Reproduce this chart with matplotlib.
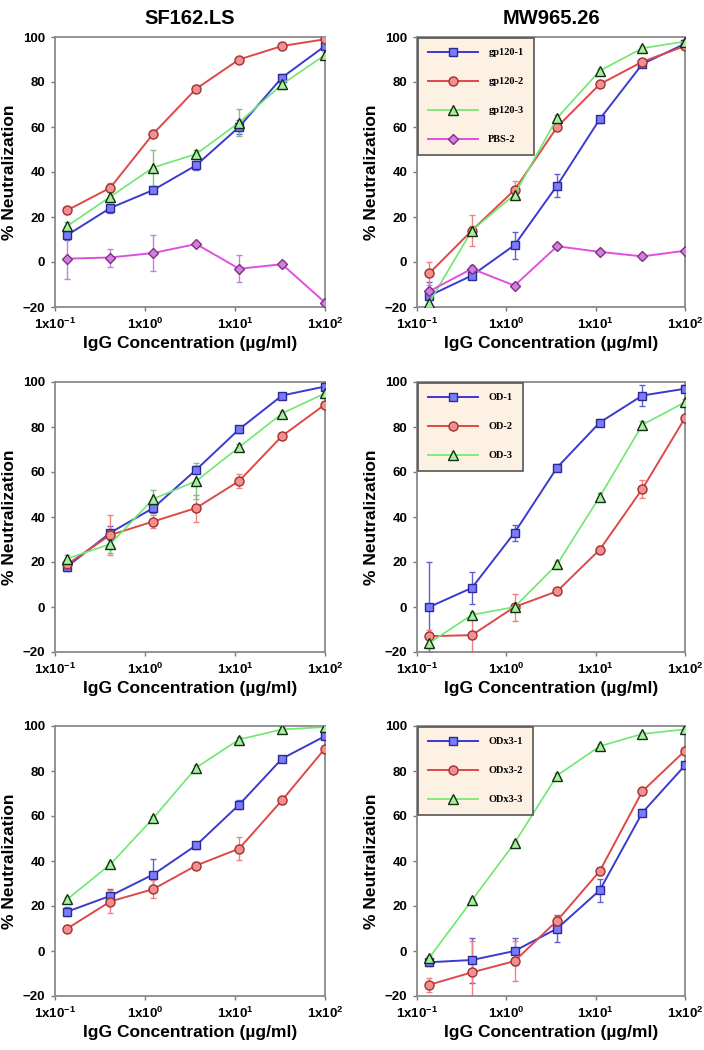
import numpy as np
import matplotlib
matplotlib.use('Agg')
import matplotlib.pyplot as plt
from matplotlib.ticker import FixedLocator, NullLocator

plt.rcParams['font.family'] = ['Liberation Sans', 'DejaVu Sans']
plt.rcParams['font.weight'] = 'bold'
plt.rcParams['mathtext.fontset'] = 'custom'
plt.rcParams['mathtext.rm'] = 'Liberation Sans:bold'
plt.rcParams['mathtext.it'] = 'Liberation Sans:bold'
plt.rcParams['mathtext.bf'] = 'Liberation Sans:bold'
plt.rcParams['mathtext.default'] = 'rm'

# 3-fold dilutions of IgG (ug/ml)
conc = [100 / 729, 100 / 243, 100 / 81, 100 / 27, 100 / 9, 100 / 3, 100]

# SF162.LS, gp120 immunized
sf_gp1 = [12, 24, 32, 43, 60, 82, 96]
sf_gp2 = [23, 33, 57, 77, 90, 96, 99]
sf_gp3 = [16, 29, 42, 48, 62, 79, 92]
sf_pbs = [1.5, 2, 4, 8, -3, -1, -18]
sf_gp1_err = [2, 2, 1.5, 2, 3, 1.5, 1]
sf_gp2_err = [1.5, 2, 1.5, 1.5, 1, 1.5, 1]
sf_gp3_err = [2, 2, 8, 2, 6, 2, 1.5]
sf_pbs_err = [9, 4, 8, 1, 6, 1, 1.5]

# MW965.26, gp120 immunized
mw_gp1 = [-15, -6, 7.5, 34, 63.5, 88, 97]
mw_gp2 = [-5, 14, 32, 60, 79, 89, 96]
mw_gp3 = [-18, 14, 30, 64, 85, 95, 98]
mw_pbs = [-13, -3, -10.5, 7, 4.5, 2.5, 5]
mw_gp1_err = [6, 1.5, 6, 5, 1.5, 1.5, 1]
mw_gp2_err = [5, 7, 4, 1.5, 1, 1, 1]
mw_gp3_err = [2, 2, 2, 1.5, 1, 1, 1]
mw_pbs_err = [1.5, 1.5, 1, 1, 1, 1, 1]

# SF162.LS, OD immunized
sf_od1 = [18, 33, 44, 61, 79, 94, 98]
sf_od2 = [19, 32, 38, 44, 56, 76, 90]
sf_od3 = [21.5, 28, 48, 56, 71, 86, 95]
sf_od1_err = [2, 3, 2, 1.5, 1.5, 1, 1]
sf_od2_err = [2, 9, 3, 6, 3, 1.5, 1]
sf_od3_err = [1.5, 4, 4, 8, 1.5, 1, 1]

# MW965.26, OD immunized
mw_od1 = [0, 8.5, 33, 62, 82, 94, 97]
mw_od2 = [-13, -12.5, 0, 7, 25.5, 52.5, 84]
mw_od3 = [-16, -3.5, 0, 19, 49, 81, 91]
mw_od1_err = [20, 7, 3.5, 1.5, 1.5, 4.5, 1.5]
mw_od2_err = [3, 8, 6, 1.5, 1.5, 4, 1.5]
mw_od3_err = [2, 1.5, 1.5, 1.5, 1.5, 1.5, 1.5]

# SF162.LS, ODx3 immunized
sf_odx1 = [17.5, 24.5, 34, 47, 65, 85.5, 95.5]
sf_odx2 = [10, 22, 27.5, 38, 45.5, 67, 90]
sf_odx3 = [23, 38.5, 59, 81.5, 94, 98.5, 99.5]
sf_odx1_err = [2, 3, 7, 1.5, 2, 1, 1]
sf_odx2_err = [1.5, 5, 4, 1.5, 5, 1.5, 1]
sf_odx3_err = [1, 1, 1, 1, 1, 1, 1]

# MW965.26, ODx3 immunized
mw_odx1 = [-5, -4, 0, 10, 27, 61.5, 82.5]
mw_odx2 = [-15, -9.5, -4.5, 13.5, 35.5, 71, 89]
mw_odx3 = [-3, 22.5, 48, 78, 91, 96.5, 98.5]
mw_odx1_err = [1.5, 10, 6, 6, 5, 1.5, 1.5]
mw_odx2_err = [3, 14, 9, 2, 1.5, 1.5, 1.5]
mw_odx3_err = [1, 1, 1, 1, 1, 1, 1]

gp_labels = ['gp120-1', 'gp120-2', 'gp120-3', 'PBS-2']
od_labels = ['OD-1', 'OD-2', 'OD-3']
odx_labels = ['ODx3-1', 'ODx3-2', 'ODx3-3']

styles = [
    dict(color='#3a3ad0', marker='s', mfc='#7b7bff', mec='#2a2a90', ms=6, lw=1.4),
    dict(color='#e04848', marker='o', mfc='#f29090', mec='#a03030', ms=6.5, lw=1.4),
    dict(color='#6ee86e', marker='^', mfc='#a8f0a0', mec='#103010', ms=7.5, lw=1.2),
    dict(color='#e050e0', marker='D', mfc='#d080e0', mec='#803080', ms=5.5, lw=1.4),
]
err_colors = ['#6060d0', '#f08080', '#80c080', '#c080e0']

panels = [
    ([sf_gp1, sf_gp2, sf_gp3, sf_pbs], [sf_gp1_err, sf_gp2_err, sf_gp3_err, sf_pbs_err], None),
    ([mw_gp1, mw_gp2, mw_gp3, mw_pbs], [mw_gp1_err, mw_gp2_err, mw_gp3_err, mw_pbs_err], gp_labels),
    ([sf_od1, sf_od2, sf_od3], [sf_od1_err, sf_od2_err, sf_od3_err], None),
    ([mw_od1, mw_od2, mw_od3], [mw_od1_err, mw_od2_err, mw_od3_err], od_labels),
    ([sf_odx1, sf_odx2, sf_odx3], [sf_odx1_err, sf_odx2_err, sf_odx3_err], None),
    ([mw_odx1, mw_odx2, mw_odx3], [mw_odx1_err, mw_odx2_err, mw_odx3_err], odx_labels),
]

W, H = 704, 1050
fig = plt.figure(figsize=(7.04, 10.5), dpi=100)

# axes boxes in pixels: left, top, right, bottom
lefts = [(55, 325), (417, 685)]
rows = [(37, 307), (382, 652), (726, 996)]

for i, (series, errs, labels) in enumerate(panels):
    r, c = divmod(i, 2)
    x0, x1 = lefts[c]
    y0, y1 = rows[r]
    ax = fig.add_axes([x0 / W, 1 - y1 / H, (x1 - x0) / W, (y1 - y0) / H])
    handles = []
    for k, (vals, err) in enumerate(zip(series, errs)):
        ax.errorbar(conc, vals, yerr=err, fmt='none', ecolor=err_colors[k],
                    elinewidth=1, capsize=2, capthick=1, zorder=2)
        h, = ax.plot(conc, vals, zorder=3, **styles[k])
        handles.append(h)
    ax.set_xscale('log')
    ax.set_xlim(0.1, 100)
    ax.set_ylim(-20, 100)
    ax.xaxis.set_major_locator(FixedLocator([0.1, 1, 10, 100]))
    ax.xaxis.set_minor_locator(NullLocator())
    ax.set_xticklabels(['1x10$^{-1}$', '1x10$^{0}$', '1x10$^{1}$', '1x10$^{2}$'])
    ax.set_yticks([-20, 0, 20, 40, 60, 80, 100])
    ax.tick_params(labelsize=9.5, length=3, width=1, color='#777777', pad=4)
    for lab in ax.get_yticklabels():
        lab.set_fontweight('bold')
    for s in ax.spines.values():
        s.set_color('#8a8a8a')
        s.set_linewidth(1.3)
    ax.set_ylabel('% Neutralization', fontsize=12.5, fontweight='bold', labelpad=4)
    ax.set_xlabel('IgG Concentration (\u00b5g/ml)', fontsize=12.5, fontweight='bold', labelpad=3)
    if labels is not None:
        leg = ax.legend(handles, labels, loc='upper left', frameon=True, fancybox=False,
                        prop={'family': 'Liberation Serif', 'weight': 'bold', 'size': 7.5},
                        handlelength=4.8, borderpad=1.0, labelspacing=1.9,
                        borderaxespad=0.05, handletextpad=1.0)
        leg.get_frame().set_facecolor('#fdf1e4')
        leg.get_frame().set_edgecolor('#555555')
        leg.get_frame().set_linewidth(1.2)
        leg.get_frame().set_alpha(1)
    if r == 0:
        ax.set_title(['SF162.LS', 'MW965.26'][c], fontsize=14.5, fontweight='bold', pad=9)

fig.savefig('out.png', dpi=100)
